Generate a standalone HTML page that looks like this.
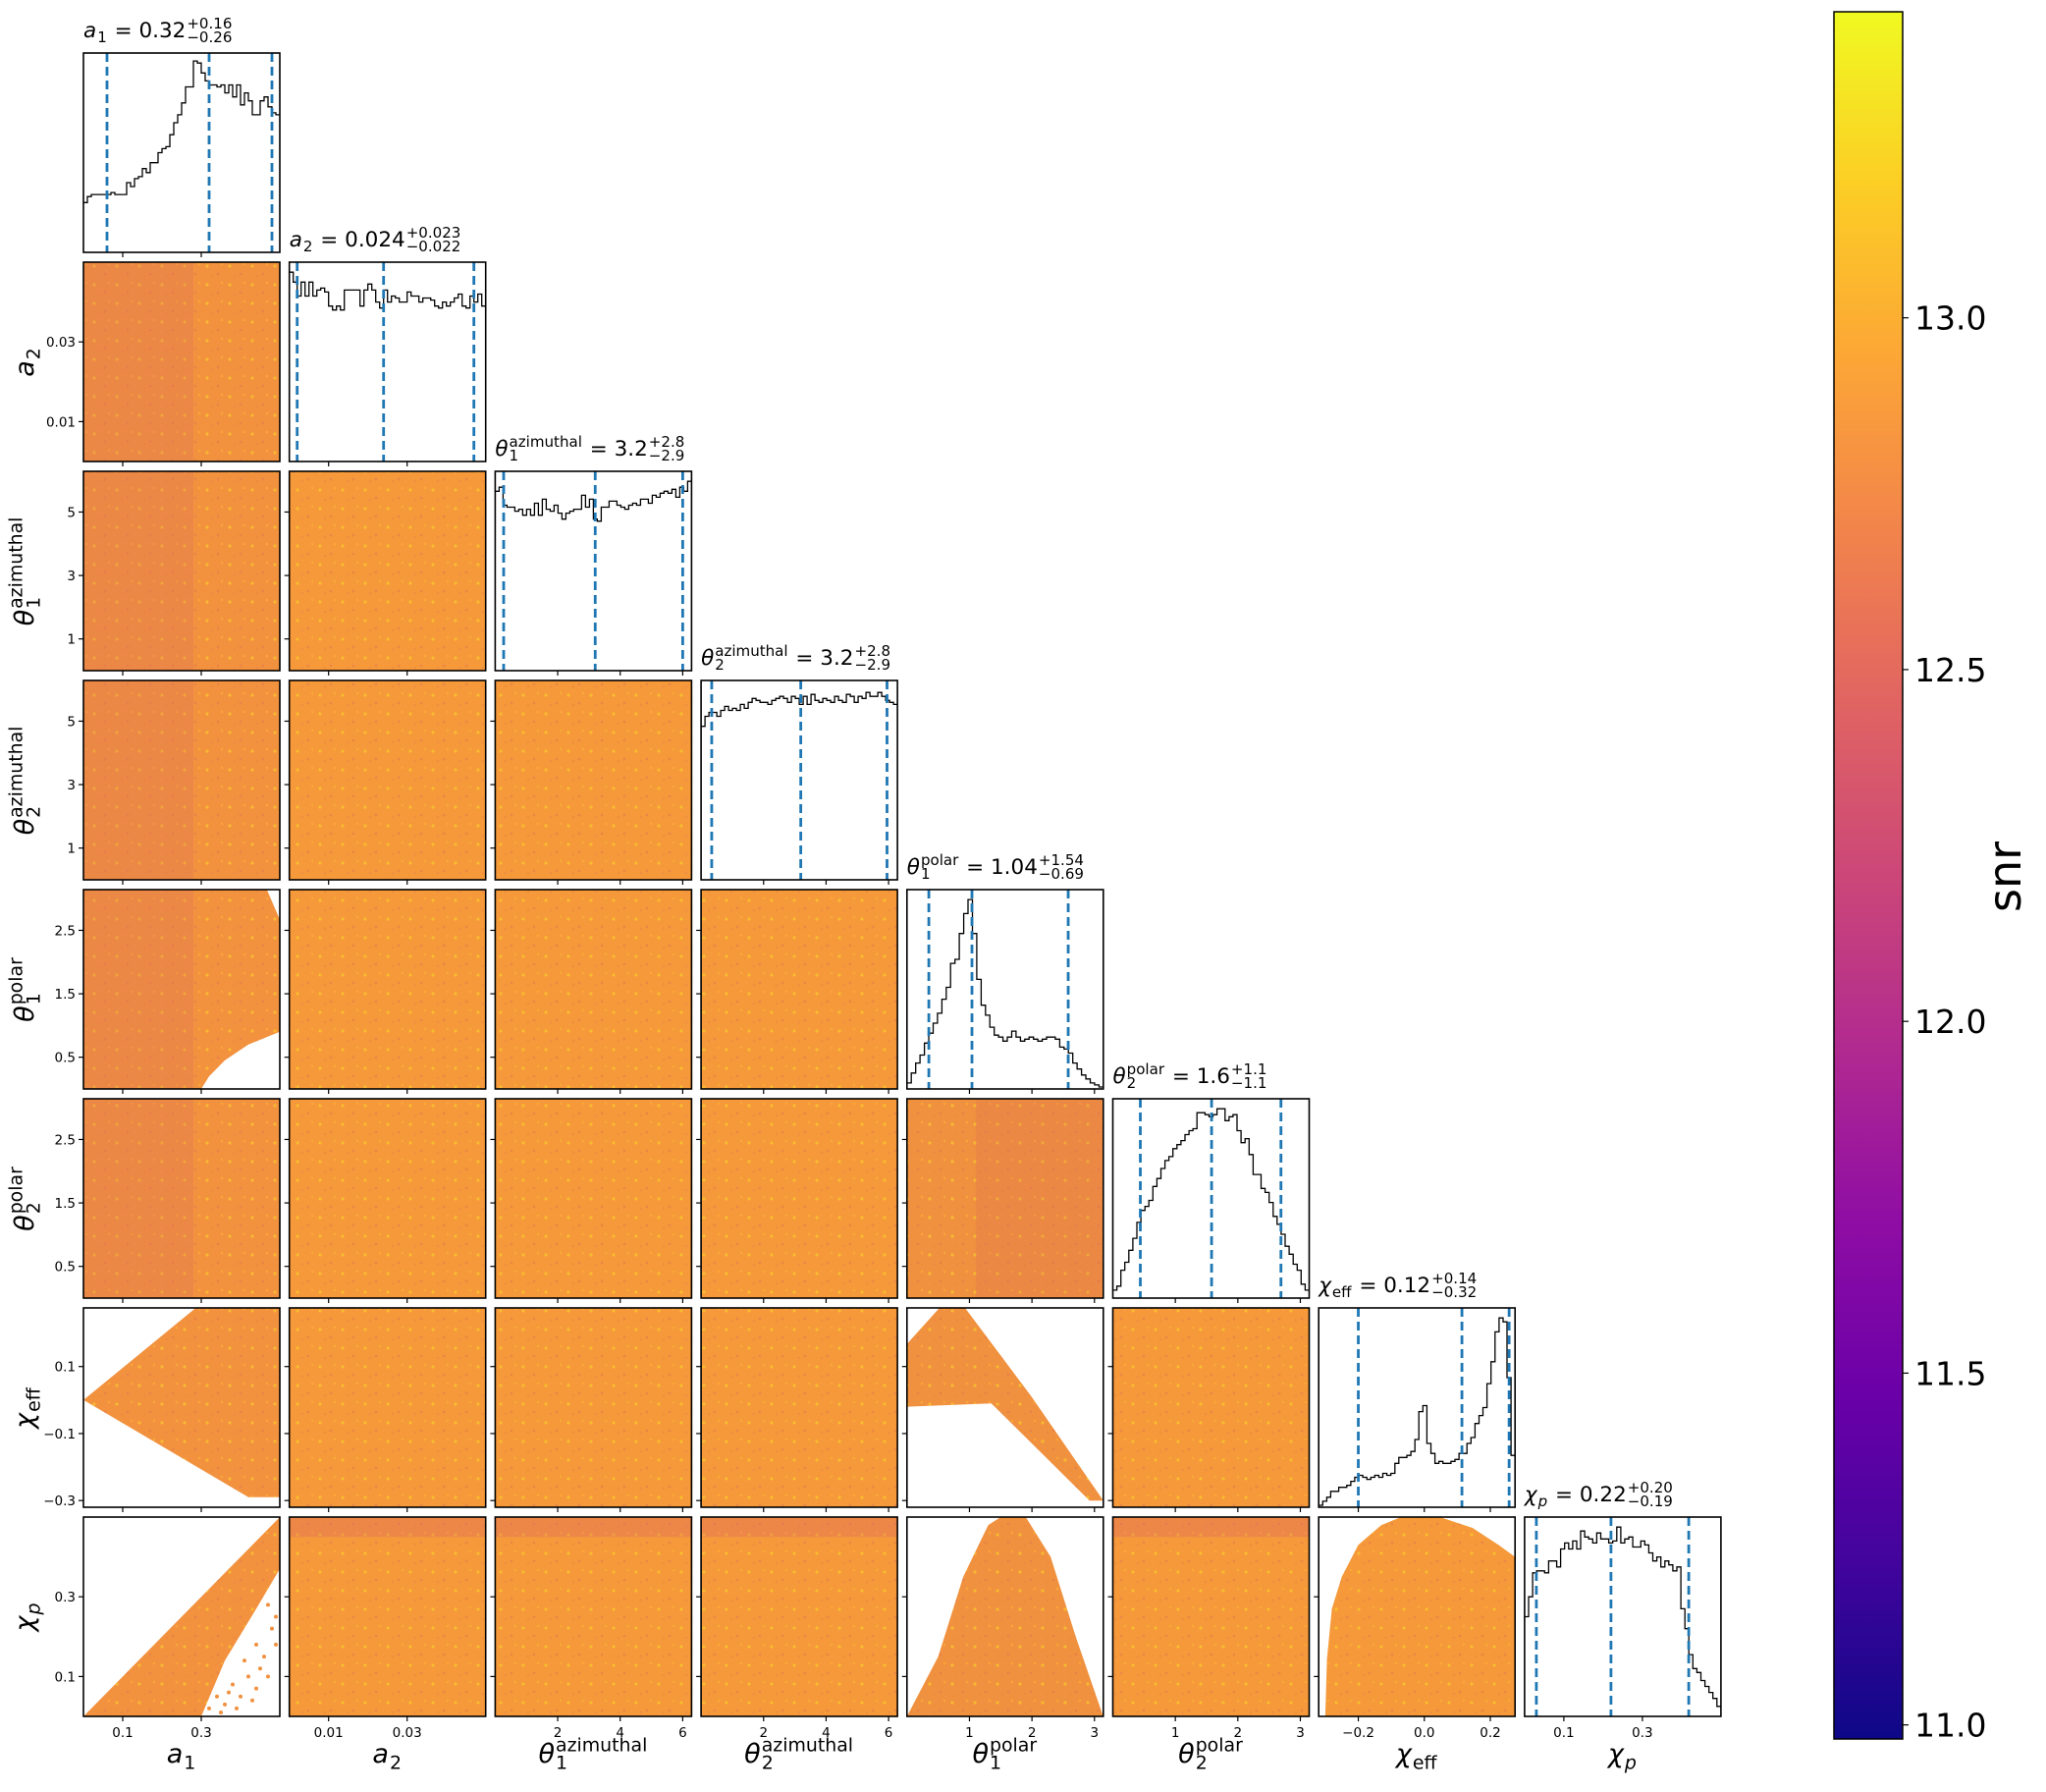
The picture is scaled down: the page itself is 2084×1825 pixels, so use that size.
<!DOCTYPE html>
<html><head><meta charset="utf-8">
<style>
html,body{margin:0;padding:0;background:#fff;}
svg{display:block;font-family:"DejaVu Sans","Liberation Sans",sans-serif;}
</style></head>
<body>
<svg id="fig" width="2084" height="1825" viewBox="0 0 2084 1825" xmlns="http://www.w3.org/2000/svg">
<defs>
<pattern id="spk" width="23" height="19" patternUnits="userSpaceOnUse">
<circle cx="4" cy="5" r="1.6" fill="#fcd22a"/>
<circle cx="15" cy="13" r="1.4" fill="#e0744f" opacity="0.8"/>
<circle cx="19" cy="3" r="1.3" fill="#fbb333"/>
<circle cx="9" cy="15" r="1.3" fill="#ea8346" opacity="0.8"/>
</pattern>
<linearGradient id="plasma" x1="0" y1="1" x2="0" y2="0">
<stop offset="0" stop-color="#0d0887"/><stop offset="0.1" stop-color="#41049d"/>
<stop offset="0.2" stop-color="#6a00a8"/><stop offset="0.3" stop-color="#8f0da4"/>
<stop offset="0.4" stop-color="#b12a90"/><stop offset="0.5" stop-color="#cc4778"/>
<stop offset="0.6" stop-color="#e16462"/><stop offset="0.7" stop-color="#f2844b"/>
<stop offset="0.8" stop-color="#fca636"/><stop offset="0.9" stop-color="#fcce25"/>
<stop offset="1" stop-color="#f0f921"/>
</linearGradient>
</defs>
<g id="panels"></g>
<g id="labels"></g>
<g id="cbar"></g>
</svg>
<script>
// ---------- data ----------
const varNames = ["a1","a2","t1az","t2az","t1pol","t2pol","chieff","chip"];
const rangeMin = [0, 0, 0, 0, 0, 0, -0.32, 0];
const rangeMax = [0.5, 0.05, 6.283, 6.283, 3.1416, 3.1416, 0.275, 0.5];
const xTicks = [[0.1,0.3],[0.01,0.03],[2,4,6],[2,4,6],[1,2,3],[1,2,3],[-0.2,0.0,0.2],[0.1,0.3]];
const xTickLabels = [["0.1","0.3"],["0.01","0.03"],["2","4","6"],["2","4","6"],["1","2","3"],["1","2","3"],["−0.2","0.0","0.2"],["0.1","0.3"]];
const yTicks = [[],[0.01,0.03],[1,3,5],[1,3,5],[0.5,1.5,2.5],[0.5,1.5,2.5],[-0.3,-0.1,0.1],[0.1,0.3]];
const yTickLabels = [[],["0.01","0.03"],["1","3","5"],["1","3","5"],["0.5","1.5","2.5"],["0.5","1.5","2.5"],["−0.3","−0.1","0.1"],["0.1","0.3"]];

const hist_a1 = [0.25,0.28,0.29,0.29,0.29,0.29,0.29,0.30,0.29,0.29,0.29,0.35,0.33,0.37,0.38,0.42,0.40,0.45,0.45,0.50,0.52,0.53,0.59,0.65,0.69,0.75,0.83,0.83,0.96,0.95,0.90,0.86,0.84,0.84,0.83,0.84,0.80,0.84,0.78,0.84,0.74,0.80,0.76,0.69,0.69,0.76,0.78,0.73,0.70,0.69];
const hist_a2 = [0.95,0.90,0.83,0.90,0.83,0.90,0.83,0.86,0.87,0.85,0.78,0.76,0.78,0.76,0.86,0.86,0.86,0.86,0.78,0.86,0.89,0.86,0.80,0.77,0.86,0.80,0.83,0.82,0.80,0.80,0.85,0.83,0.83,0.80,0.82,0.82,0.81,0.78,0.77,0.80,0.78,0.80,0.82,0.84,0.78,0.77,0.83,0.80,0.84,0.78];
const hist_t1az = [0.90,0.92,0.83,0.82,0.82,0.80,0.81,0.78,0.81,0.78,0.84,0.78,0.86,0.81,0.80,0.83,0.79,0.76,0.79,0.80,0.81,0.81,0.88,0.82,0.86,0.76,0.75,0.82,0.82,0.85,0.85,0.83,0.82,0.81,0.83,0.84,0.83,0.86,0.86,0.84,0.88,0.87,0.89,0.90,0.89,0.91,0.87,0.92,0.90,0.95];
const hist_t2az = [0.77,0.82,0.84,0.84,0.82,0.85,0.87,0.85,0.86,0.85,0.88,0.86,0.89,0.91,0.90,0.89,0.89,0.88,0.90,0.91,0.92,0.91,0.89,0.92,0.91,0.88,0.92,0.88,0.93,0.90,0.89,0.91,0.90,0.89,0.92,0.90,0.89,0.93,0.92,0.89,0.92,0.91,0.94,0.92,0.92,0.94,0.92,0.90,0.89,0.88];
const hist_t1pol = [0.03,0.08,0.13,0.17,0.23,0.28,0.33,0.38,0.45,0.51,0.63,0.65,0.78,0.88,0.95,0.78,0.55,0.42,0.37,0.31,0.27,0.26,0.24,0.26,0.29,0.26,0.24,0.25,0.26,0.25,0.24,0.25,0.26,0.26,0.25,0.21,0.20,0.18,0.13,0.10,0.07,0.05,0.03,0.02,0.01];
const hist_t2pol = [0.04,0.06,0.14,0.18,0.24,0.30,0.38,0.44,0.46,0.49,0.56,0.60,0.65,0.69,0.71,0.75,0.77,0.79,0.82,0.84,0.85,0.93,0.93,0.92,0.91,0.92,0.95,0.95,0.89,0.91,0.92,0.84,0.78,0.80,0.72,0.62,0.62,0.55,0.53,0.48,0.41,0.37,0.32,0.26,0.22,0.17,0.14,0.07,0.04];
const hist_chieff = [0.01,0.03,0.05,0.08,0.08,0.10,0.10,0.11,0.13,0.15,0.16,0.15,0.14,0.15,0.16,0.15,0.17,0.16,0.17,0.22,0.25,0.25,0.26,0.28,0.34,0.48,0.51,0.32,0.27,0.22,0.23,0.22,0.22,0.23,0.24,0.27,0.27,0.32,0.35,0.42,0.46,0.50,0.62,0.73,0.88,0.95,0.93,0.65,0.26];
const hist_chip = [0.50,0.60,0.72,0.73,0.73,0.72,0.78,0.78,0.75,0.84,0.87,0.84,0.88,0.84,0.93,0.90,0.89,0.87,0.92,0.89,0.89,0.87,0.88,0.95,0.87,0.89,0.90,0.85,0.85,0.88,0.86,0.82,0.78,0.80,0.75,0.78,0.76,0.73,0.75,0.54,0.44,0.31,0.24,0.22,0.18,0.15,0.12,0.09,0.05];
const hists = [hist_a1,hist_a2,hist_t1az,hist_t2az,hist_t1pol,hist_t2pol,hist_chieff,hist_chip];

const q_low = [0.06, 0.002, 0.27, 0.34, 0.35, 0.44, -0.20, 0.03];
const q_med = [0.32, 0.024, 3.2, 3.19, 1.04, 1.58, 0.114, 0.22];
const q_high = [0.48, 0.047, 6.0, 5.95, 2.58, 2.69, 0.257, 0.418];

const titleVal = ["0.32","0.024","3.2","3.2","1.04","1.6","0.12","0.22"];
const titlePlus = ["+0.16","+0.023","+2.8","+2.8","+1.54","+1.1","+0.14","+0.20"];
const titleMinus = ["−0.26","−0.022","−2.9","−2.9","−0.69","−1.1","−0.32","−0.19"];

// colorbar
const cbarMin = 10.98, cbarMax = 13.435;
const cbarTicks = [11.0, 11.5, 12.0, 12.5, 13.0];
const cbarTickLabels = ["11.0","11.5","12.0","12.5","13.0"];

// ---------- layout ----------
const SVGNS = "http://www.w3.org/2000/svg";
const L0 = 85, T0 = 54, DX = 209.7, DY = 213, W = 200, H = 203;
const px = c => L0 + DX*c;
const py = r => T0 + DY*r;
function X(c, v){ return px(c) + (v - rangeMin[c])/(rangeMax[c]-rangeMin[c])*W; }
function Y(r, v){ return py(r) + H - (v - rangeMin[r])/(rangeMax[r]-rangeMin[r])*H; }
function mk(tag, attrs, parent){
  const e = document.createElementNS(SVGNS, tag);
  for (const k in attrs) e.setAttribute(k, attrs[k]);
  if (parent) parent.appendChild(e);
  return e;
}
const gP = document.getElementById('panels');
const gL = document.getElementById('labels');

function drawMath(parent, x, y, parts, size){
  let cx = x;
  for (const p of parts){
    if (p.t !== undefined){
      const t = mk('text', {x:cx, y:y, 'font-size':size}, parent);
      t.setAttributeNS('http://www.w3.org/XML/1998/namespace','xml:space','preserve');
      t.style.whiteSpace = 'pre';
      if (p.it) t.setAttribute('font-style','italic');
      t.textContent = p.t;
      cx += t.getComputedTextLength();
    } else {
      let w = 0;
      if (p.sup){
        const s = mk('text', {x:cx+1, y:y-size*0.42, 'font-size':size*0.7}, parent);
        s.textContent = p.sup; w = Math.max(w, s.getComputedTextLength());
      }
      if (p.sub){
        const s = mk('text', {x:cx+1, y:y+size*0.24, 'font-size':size*0.7}, parent);
        if (p.subIt) s.setAttribute('font-style','italic');
        s.textContent = p.sub; w = Math.max(w, s.getComputedTextLength());
      }
      cx += w + 2;
    }
  }
  return cx - x;
}
const symbols = [
  [{t:'a',it:true},{sub:'1'}],
  [{t:'a',it:true},{sub:'2'}],
  [{t:'θ',it:true},{sup:'azimuthal',sub:'1'}],
  [{t:'θ',it:true},{sup:'azimuthal',sub:'2'}],
  [{t:'θ',it:true},{sup:'polar',sub:'1'}],
  [{t:'θ',it:true},{sup:'polar',sub:'2'}],
  [{t:'χ',it:true},{sub:'eff'}],
  [{t:'χ',it:true},{sub:'p',subIt:true}]
];

// ---------- 2D panel shapes (data coords: [x,y]) ----------
const shapes = {
  "4-0": [[[0,0],[0,3.1416],[0.467,3.1416],[0.5,2.67],[0.5,0.9],[0.42,0.7],[0.36,0.45],[0.32,0.2],[0.30,0]]],
  "6-0": [[[0,0],[0.286,0.275],[0.5,0.275],[0.5,-0.29],[0.42,-0.29],[0,0]]],
  "7-0": [[[0,0],[0.5,0.5],[0.5,0.37],[0.44,0.27],[0.36,0.14],[0.30,0]]],
  "6-4": [[[0,0.167],[0.52,0.275],[0.93,0.275],[1.99,0.011],[3.1416,-0.30],[2.92,-0.30],[1.35,-0.01],[0,-0.02]]],
  "7-4": [[[0,0],[0.5,0.15],[0.9,0.35],[1.3,0.48],[1.5,0.5],[1.9,0.5],[2.3,0.4],[2.7,0.2],[3.14,0.0]]],
  "7-6": [[[-0.30,0],[-0.295,0.143],[-0.28,0.27],[-0.25,0.35],[-0.20,0.43],[-0.13,0.48],[-0.07,0.5],[0.047,0.5],[0.146,0.473],[0.225,0.43],[0.275,0.40],[0.275,0]]]
};
const sparseA1Chip = [[0.32,0.02],[0.34,0.05],[0.36,0.03],[0.38,0.08],[0.40,0.05],[0.42,0.10],[0.44,0.07],[0.46,0.15],[0.47,0.10],[0.48,0.22],[0.49,0.18],[0.43,0.04],[0.39,0.02],[0.45,0.12],[0.41,0.14],[0.47,0.28],[0.49,0.25],[0.44,0.18],[0.37,0.06],[0.35,0.01]];

// ---------- draw panels ----------
for (let r = 0; r < 8; r++){
  for (let c = 0; c <= r; c++){
    const g = mk('g', {}, gP);
    
    
    const x0 = px(c), y0 = py(r);
    if (r !== c){
      const cid = 'clip'+r+'_'+c;
      const cp = mk('clipPath', {id:cid}, g);
      mk('rect', {x:x0, y:y0, width:W, height:H}, cp);
      const inner = mk('g', {'clip-path':'url(#'+cid+')'}, g);
      const key = r+'-'+c;
      const base = (c===0) ? '#f2923f' : (c===4 ? '#f0913f' : '#f5993a');
      if (shapes[key]){
        for (const poly of shapes[key]){
          const d = poly.map((p,i)=>(i?'L':'M')+X(c,p[0]).toFixed(1)+','+Y(r,p[1]).toFixed(1)).join('')+'Z';
          mk('path', {d:d, fill:base}, inner);
          mk('path', {d:d, fill:'url(#spk)', opacity:0.6}, inner);
        }
      } else {
        mk('rect', {x:x0, y:y0, width:W, height:H, fill:base}, inner);
        mk('rect', {x:x0, y:y0, width:W, height:H, fill:'url(#spk)', opacity:0.6}, inner);
      }
      if (c===0 && r!==6 && r!==7){
        mk('rect', {x:x0, y:y0, width:(X(0,0.28)-x0), height:H, fill:'#dd6f55', opacity:0.3}, inner);
      }
      if (c===4 && r===5){
        mk('rect', {x:X(4,1.1), y:y0, width:px(4)+W-X(4,1.1), height:H, fill:'#dd6f55', opacity:0.25}, inner);
      }
      if (r===7 && (c===1 || c===2 || c===3 || c===5)){
        mk('rect', {x:x0, y:y0, width:W, height:Y(7,0.45)-y0, fill:'#d9606a', opacity:0.3}, inner);
      }
      if (key==='7-0'){
        for (const p of sparseA1Chip){
          mk('circle', {cx:X(0,p[0]), cy:Y(7,p[1]), r:2, fill:'#f19040'}, inner);
        }
      }
    } else {
      const hv = hists[c], n = hv.length;
      let d = '';
      for (let i = 0; i < n; i++){
        const xa = px(c) + W*i/n, xb = px(c) + W*(i+1)/n;
        const yy = py(r) + H*(1 - hv[i]);
        d += (i===0 ? 'M'+xa.toFixed(1)+','+yy.toFixed(1) : 'V'+yy.toFixed(1)) + 'H'+xb.toFixed(1);
      }
      const hp = mk('path', {d:d, fill:'none', stroke:'#000', 'stroke-width':1.3}, g);
      
      
      for (const q of [q_low[c], q_med[c], q_high[c]]){
        const xx = X(c, q);
        const ln = mk('line', {x1:xx, x2:xx, y1:py(r), y2:py(r)+H, stroke:'#1f77b4', 'stroke-width':2.8, 'stroke-dasharray':'9,5'}, g);
        
        
      }
      const tg = mk('g', {}, gL);
      
      
      drawMath(tg, px(c), py(r)-16, symbols[c].concat([{t:'\u00a0=\u00a0'+titleVal[c]},{sup:titlePlus[c], sub:titleMinus[c]}]), 21.5);
    }
    mk('rect', {x:x0, y:y0, width:W, height:H, fill:'none', stroke:'#000', 'stroke-width':1.6}, g);
    xTicks[c].forEach((tv,i)=>{
      const xx = X(c,tv);
      mk('line', {x1:xx, x2:xx, y1:y0+H, y2:y0+H+5, stroke:'#000', 'stroke-width':1.2}, g);
      if (r===7){
        const t = mk('text', {x:xx, y:y0+H+21, 'font-size':13.5, 'text-anchor':'middle'}, g);
        t.textContent = xTickLabels[c][i];
      }
    });
    if (r !== c){
      yTicks[r].forEach((tv,i)=>{
        const yy = Y(r,tv);
        mk('line', {x1:x0-5, x2:x0, y1:yy, y2:yy, stroke:'#000', 'stroke-width':1.2}, g);
        if (c===0){
          const t = mk('text', {x:x0-8, y:yy+5, 'font-size':13.5, 'text-anchor':'end'}, g);
          t.textContent = yTickLabels[r][i];
        }
      });
    }
  }
}
for (let c = 0; c < 8; c++){
  const g = mk('g', {}, gL);
  
  
  const w = drawMath(g, 0, 0, symbols[c], 27);
  g.setAttribute('transform', 'translate('+(px(c)+W/2-w/2)+',1795)');
}
for (let r = 1; r < 8; r++){
  const g = mk('g', {}, gL);
  
  
  const w = drawMath(g, 0, 0, symbols[r], 27);
  g.setAttribute('transform', 'translate(34,'+(py(r)+H/2+w/2)+') rotate(-90)');
}
const gC = document.getElementById('cbar');
const CB_X = 1868, CB_Y0 = 12, CB_Y1 = 1771, CB_W = 70;
const cbY = v => CB_Y1 - (v - cbarMin)/(cbarMax - cbarMin)*(CB_Y1 - CB_Y0);
const cbr = mk('rect', {x:CB_X, y:CB_Y0, width:CB_W, height:CB_Y1-CB_Y0, fill:'url(#plasma)', stroke:'#000', 'stroke-width':1.5}, gC);


cbarTicks.forEach((tv,i)=>{
  const yy = cbY(tv);
  mk('line', {x1:CB_X+CB_W, x2:CB_X+CB_W+6, y1:yy, y2:yy, stroke:'#000', 'stroke-width':1.2}, gC);
  const t = mk('text', {x:CB_X+CB_W+12, y:yy+12, 'font-size':33}, gC);
  
  
  t.textContent = cbarTickLabels[i];
});
const snr = mk('text', {x:0, y:0, 'font-size':46, 'text-anchor':'middle', transform:'translate(2058,893) rotate(-90)'}, gC);


snr.textContent = 'snr';
</script>
</body></html>
